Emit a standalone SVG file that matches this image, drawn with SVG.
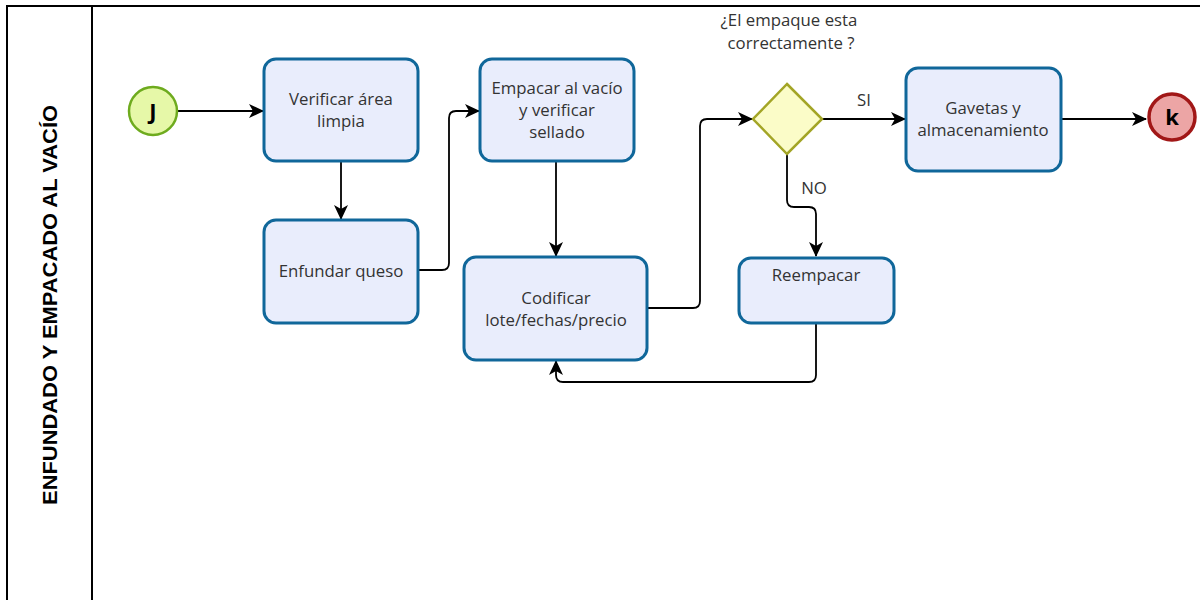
<svg xmlns="http://www.w3.org/2000/svg" width="1200" height="600" viewBox="0 0 1200 600">
  <style>
    .lane { fill: none; stroke: #000; stroke-width: 2; }
    .task { fill: #e9edfc; stroke: #10679a; stroke-width: 3; }
    .lbl { font-family: "Open Sans", "Noto Sans", sans-serif; font-size: 16.8px; fill: #333; text-anchor: middle; }
    .flow { fill: none; stroke: #000; stroke-width: 1.8; marker-end: url(#arrow); }
    .ev { font-family: "Open Sans", sans-serif; font-weight: bold; font-size: 22px; fill: #000; text-anchor: middle; }
  </style>
  <defs>
    <marker id="arrow" viewBox="0 0 15 14" refX="14" refY="7" markerWidth="15" markerHeight="14" markerUnits="userSpaceOnUse" orient="auto">
      <path d="M0,0 L15,7 L0,14 L4,7 Z" fill="#000"/>
    </marker>
  </defs>

  <rect width="1200" height="600" fill="#fff"/>

  <!-- pool / lane frame -->
  <g id="lane">
    <path class="lane" d="M7,610 V6 H1210"/>
    <line class="lane" x1="92" y1="6" x2="92" y2="610"/>
    <text transform="translate(57,305) rotate(-90)" font-family="Liberation Sans, Arial, sans-serif" font-weight="bold" font-size="21" text-anchor="middle" textLength="400" lengthAdjust="spacingAndGlyphs" fill="#000">ENFUNDADO Y EMPACADO AL VACÍO</text>
  </g>

  <!-- connectors -->
  <g id="connectors">
    <path class="flow" d="M177,111 H263"/>
    <path class="flow" d="M341,162 V219"/>
    <path class="flow" d="M419,270 H442 Q449,270 449,263 V118 Q449,111 456,111 H479"/>
    <path class="flow" d="M556,162 V256"/>
    <path class="flow" d="M648,308 H693 Q700,308 700,301 V126 Q700,119 707,119 H752"/>
    <path class="flow" d="M822,119 H905"/>
    <path class="flow" d="M1062,119 H1146"/>
    <path class="flow" d="M787,154 V200 Q787,207 794,207 H809 Q816,207 816,214 V256"/>
    <path class="flow" d="M816,324 V375 Q816,382 809,382 H563 Q556,382 556,375 V361"/>
    <text class="lbl" x="864" y="106">SI</text>
    <text class="lbl" x="814" y="194">NO</text>
  </g>

  <g id="start">
    <circle cx="153" cy="111" r="24" fill="#e6f8a8" stroke="#6eab1e" stroke-width="2.5"/>
    <text class="ev" x="153" y="119">J</text>
  </g>

  <g id="task-verificar">
    <rect class="task" x="264" y="59" width="154" height="102" rx="12"/>
    <text class="lbl" x="341" y="105">Verificar área</text>
    <text class="lbl" x="341" y="127">limpia</text>
  </g>

  <g id="task-enfundar">
    <rect class="task" x="264" y="220" width="154" height="103" rx="12"/>
    <text class="lbl" x="341" y="277">Enfundar queso</text>
  </g>

  <g id="task-empacar">
    <rect class="task" x="480" y="59" width="154" height="102" rx="12"/>
    <text class="lbl" x="557" y="94">Empacar al vacío</text>
    <text class="lbl" x="557" y="116">y verificar</text>
    <text class="lbl" x="557" y="138">sellado</text>
  </g>

  <g id="task-codificar">
    <rect class="task" x="464" y="257" width="183" height="103" rx="12"/>
    <text class="lbl" x="556" y="304">Codificar</text>
    <text class="lbl" x="556" y="326">lote/fechas/precio</text>
  </g>

  <g id="gateway">
    <polygon points="787,84 822,119 787,154 753,119" fill="#fbfcc8" stroke="#a3a526" stroke-width="2.5"/>
    <text class="lbl" x="789" y="26">¿El empaque esta</text>
    <text class="lbl" x="791" y="49">correctamente ?</text>
  </g>

  <g id="task-gavetas">
    <rect class="task" x="906" y="68" width="155" height="103" rx="12"/>
    <text class="lbl" x="983" y="114">Gavetas y</text>
    <text class="lbl" x="983" y="136">almacenamiento</text>
  </g>

  <g id="task-reempacar">
    <rect class="task" x="739" y="258" width="155" height="65" rx="12"/>
    <text class="lbl" x="816" y="281">Reempacar</text>
  </g>

  <g id="end">
    <circle cx="1172" cy="117" r="23" fill="#eca5a5" stroke="#a11717" stroke-width="3.5"/>
    <text class="ev" x="1172" y="125">k</text>
  </g>
</svg>
